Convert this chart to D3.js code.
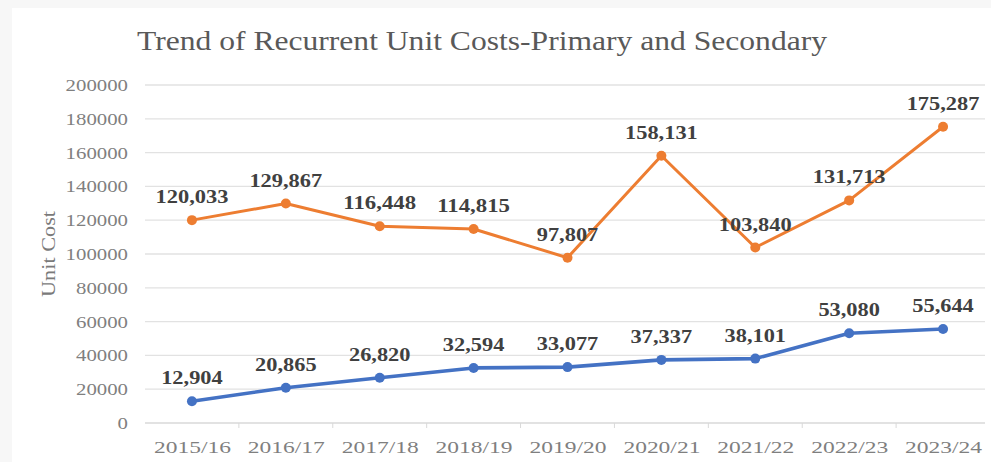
<!DOCTYPE html>
<html>
<head>
<meta charset="utf-8">
<script src="https://cdn.jsdelivr.net/npm/d3@7"></script>
<style>
  html, body { margin: 0; padding: 0; background: #f7f7f7; }
  svg { display: block; }
</style>
</head>
<body>
<svg id="chart" width="991" height="462"></svg>
<script>
// Fiscal years along the x axis
const years = ["2015/16", "2016/17", "2017/18", "2018/19", "2019/20", "2020/21", "2021/22", "2022/23", "2023/24"];
// Recurrent unit cost per pupil
const primary = [12904, 20865, 26820, 32594, 33077, 37337, 38101, 53080, 55644];
const secondary = [120033, 129867, 116448, 114815, 97807, 158131, 103840, 131713, 175287];
// Value axis ticks
const yTicks = [0, 20000, 40000, 60000, 80000, 100000, 120000, 140000, 160000, 180000, 200000];

const W = 991, H = 462;
const margin = { left: 145, right: 1, top: 85, bottom: 39 };
const svg = d3.select("#chart");
const serif = "'Liberation Serif', 'DejaVu Serif', serif";

// width of a numeric string set in the wide-digit face used for labels
const numWidth = (s, digit, sep) => [...s].reduce((w, c) => w + (/[0-9]/.test(c) ? digit : sep), 0);

// white chart area over the light frame
svg.append("rect").attr("x", 12).attr("y", 8).attr("width", W - 12).attr("height", H - 8).attr("fill", "#ffffff");

const x = d3.scalePoint().domain(years).range([margin.left, W - margin.right]).padding(0.5);
const y = d3.scaleLinear().domain([0, 200000]).range([H - margin.bottom, margin.top]);

// horizontal gridlines
svg.append("g").selectAll("line").data(yTicks.filter(d => d > 0)).join("line")
  .attr("x1", margin.left).attr("x2", W - 6)
  .attr("y1", d => y(d)).attr("y2", d => y(d))
  .attr("stroke", "#e2e2e2").attr("stroke-width", 1.3);

// y axis labels
const yAxis = d3.axisLeft(y).tickValues(yTicks).tickSize(0).tickPadding(17).tickFormat(d3.format("d"));
const gy = svg.append("g").attr("transform", `translate(${margin.left},0)`).call(yAxis);
gy.select(".domain").remove();
gy.selectAll("text").attr("font-family", serif).attr("font-size", 16).attr("fill", "#7f7f7f")
  .attr("dy", "0.34em")
  .attr("textLength", function () { return numWidth(this.textContent, 10.4, 5); })
  .attr("lengthAdjust", "spacingAndGlyphs");

// x axis with category ticks
const step = x.step();
const gx = svg.append("g").attr("transform", `translate(0,${y(0)})`)
  .call(d3.axisBottom(x).tickSize(0).tickPadding(19));
gx.select(".domain").attr("stroke", "#d9d9d9").attr("stroke-width", 1.3).attr("d", `M${margin.left},0H${W - 6}`);
gx.selectAll("text").attr("font-family", serif).attr("font-size", 16).attr("fill", "#7f7f7f")
  .attr("textLength", function () { return numWidth(this.textContent, 11.2, 9.8); })
  .attr("lengthAdjust", "spacingAndGlyphs");
gx.append("g").selectAll("line").data(years.slice(0, -1)).join("line")
  .attr("x1", d => x(d) + step / 2).attr("x2", d => x(d) + step / 2)
  .attr("y1", 0).attr("y2", 5).attr("stroke", "#d9d9d9");

// axis title
svg.append("text").attr("transform", `translate(55,${(y(0) + y(200000)) / 2}) rotate(-90)`)
  .attr("text-anchor", "middle").attr("font-family", serif).attr("font-size", 18).attr("fill", "#7a7a7a")
  .attr("textLength", 86).attr("lengthAdjust", "spacingAndGlyphs")
  .text("Unit Cost");

// chart title
svg.append("text").attr("x", 482).attr("y", 50).attr("text-anchor", "middle")
  .attr("font-family", serif).attr("font-size", 28).attr("fill", "#595959")
  .attr("textLength", 690).attr("lengthAdjust", "spacingAndGlyphs")
  .text("Trend of Recurrent Unit Costs-Primary and Secondary");

const line = d3.line().x((d, i) => x(years[i])).y(d => y(d));
const fmt = d3.format(",");

function drawSeries(values, color, width) {
  const g = svg.append("g");
  g.append("path").datum(values).attr("d", line).attr("fill", "none")
    .attr("stroke", color).attr("stroke-width", width).attr("stroke-linejoin", "round");
  g.selectAll("circle").data(values).join("circle")
    .attr("cx", (d, i) => x(years[i])).attr("cy", d => y(d)).attr("r", 5).attr("fill", color);
  g.selectAll("text").data(values).join("text")
    .attr("x", (d, i) => x(years[i])).attr("y", d => y(d) - 17)
    .attr("text-anchor", "middle").attr("font-family", serif).attr("font-weight", "bold")
    .attr("font-size", 19).attr("fill", "#404040")
    .attr("textLength", d => numWidth(fmt(d), 11.3, 5)).attr("lengthAdjust", "spacingAndGlyphs")
    .text(d => fmt(d));
}

drawSeries(secondary, "#ed7d31", 3);
drawSeries(primary, "#4472c4", 3.6);
</script>
</body>
</html>
